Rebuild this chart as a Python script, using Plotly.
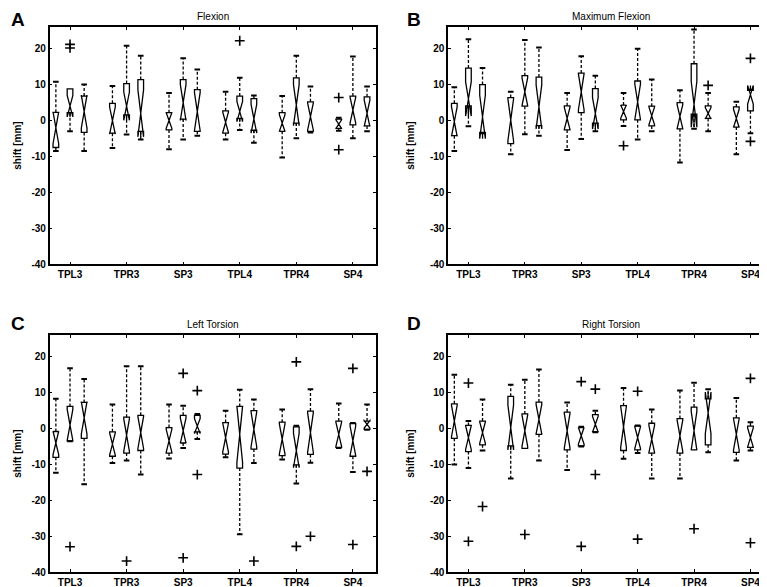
import plotly.graph_objects as go
import math

groups = ["TPL3", "TPR3", "SP3", "TPL4", "TPR4", "SP4"]
panel_titles = ["Flexion", "Maximum Flexion", "Left Torsion", "Right Torsion"]
panel_letters = ["A", "B", "C", "D"]
y_ticks = [-40, -30, -20, -10, 0, 10, 20]
y_ticktext = ["-40", "-30", "-20", "-10", "0", "10", "20"]
offsets = [-0.25, 0.0, 0.25]
n_samples = 12

# ---- Panel A: Flexion (18 boxes: 6 groups x 3) ----
flex_lo  = [-8.5, -3.0, -8.5,  -7.6, -3.9, -5.3,  -8.0, -5.3, -4.2,  -5.3, -2.6, -6.2,  -10.3, -4.9, -3.3,  -2.8, -4.9, -3.0]
flex_q1  = [-7.5,  2.2, -3.3,  -3.5,  1.6, -3.0,  -2.6,  0.4, -3.0,  -3.5,  0.6, -2.7,  -3.0, -0.7, -3.0,  -2.2, -1.2, -1.5]
flex_med = [-2.0,  4.0,  2.5,   0.0,  4.0,  2.0,   0.0,  5.0,  2.5,  -0.5,  2.5,  0.5,  -0.7,  4.3,  1.1,  -1.0,  2.9,  2.0]
flex_q3  = [ 2.3,  8.8,  6.8,   4.8, 10.3, 11.4,   2.2, 11.4,  8.6,   2.7,  6.8,  6.1,   2.2, 11.9,  5.2,   0.4,  6.8,  6.6]
flex_hi  = [10.8,  8.8, 10.0,   9.6, 20.8, 18.0,   7.7, 17.3, 14.2,   8.0, 11.9,  7.0,   6.8, 18.0,  9.5,   0.8, 17.8,  9.5]
flex_out = [[], [20.2, 21.2], [], [], [], [], [], [], [], [], [22.2], [], [], [], [], [6.4, -8.1], [], []]

# ---- Panel B: Maximum Flexion ----
mflex_lo  = [-8.5, -1.6, -3.5,  -9.4, -3.8, -4.2,  -8.2, -5.1, -3.0,  -1.5, -5.3, -3.0,  -11.7, -2.3, -3.0,  -9.4, -3.5, -2.5]
mflex_q1  = [-4.2,  4.1, -3.3,  -6.4,  4.0, -1.4,  -2.6,  2.2, -0.7,   0.2,  0.2, -1.5,  -2.3,  1.8,  0.6,  -1.8,  2.7, -2.4]
mflex_med = [-0.3,  6.0,  1.0,   0.2,  8.0,  3.8,   0.6,  8.0,  2.0,   2.5,  5.2,  1.3,   1.1,  4.5,  2.0,   0.6,  7.2, -1.2]
mflex_q3  = [ 4.8, 14.6, 10.0,   6.4, 12.5, 12.1,   4.1, 13.2,  8.9,   4.3, 11.0,  4.0,   5.0, 15.8,  4.1,   3.8,  8.4,  6.1]
mflex_hi  = [ 9.3, 22.6, 14.6,   8.0, 22.4, 20.3,   7.7, 17.9, 12.5,   7.7, 20.0, 11.4,   8.4, 25.3,  7.7,   5.2,  8.6, 10.0]
mflex_out = [[], [], [], [], [], [], [], [], [], [-7.0], [], [], [], [], [9.8], [], [17.3, -5.8], []]

# ---- Panel C: Left Torsion ----
ltor_lo  = [-12.3, -3.5, -15.5,  -9.6, -8.9, -12.8,  -8.3, -5.4, -2.9,  -8.0, -29.4, -9.6,  -8.6, -15.3, -9.5,  -5.4, -12.1, -0.3]
ltor_q1  = [ -8.0, -3.4,  -2.7,  -7.7, -6.8,  -6.1,  -6.8, -4.0, -0.9,  -7.1, -11.0, -5.7,  -7.5, -10.1, -7.2,  -5.2,  -7.7, -0.2]
ltor_med = [ -4.0,  1.0,   3.0,  -4.3, -1.8,  -1.1,  -3.4, -0.6,  0.7,  -2.5,  -1.6, -0.2,  -2.9,  -6.1, -1.1,  -1.6,  -3.4,  1.2]
ltor_q3  = [ -0.8,  6.2,   7.3,  -0.9,  3.2,   3.7,   0.3,  3.7,  3.7,   1.7,   6.2,  5.0,   1.8,   0.5,  4.9,   2.1,   1.4,  2.1]
ltor_hi  = [  8.3, 16.8,  13.8,   6.7, 17.4,  17.4,   6.7,  6.4,  4.1,   5.0,  10.8,  8.1,   5.3,   0.8, 11.0,   7.0,   1.6,  6.7]
ltor_out = [[], [-32.9], [], [], [-36.9], [], [], [15.4, -36.0], [10.6, -12.8], [], [], [-36.9], [], [18.6, -32.8], [-30.0], [], [16.8, -32.3], [-11.9]]

# ---- Panel D: Right Torsion ----
rtor_lo  = [-10.0, -11.0, -6.1,  -13.9, -5.5, -8.9,  -11.5, -5.0, -1.0,  -8.4, -6.8, -13.9,  -13.9, -5.9, -6.6,  -8.9, -6.1, -11.4]
rtor_q1  = [ -2.7,  -6.4, -4.5,   -4.8, -5.5, -1.6,   -5.9, -4.8, -0.9,  -6.1, -5.9,  -6.8,   -6.8, -5.9, -4.5,  -6.6, -5.2,  -3.4]
rtor_med = [  2.1,  -2.5, -1.1,    0.3, -0.6,  2.6,   -0.6, -2.0,  1.2,   0.5, -2.5,  -2.9,   -2.0, -0.6,  4.4,  -1.6, -2.5,  -0.2]
rtor_q3  = [  6.9,   0.9,  2.1,    9.0,  4.1,  7.4,    4.6,  0.3,  3.9,   6.4,  0.7,   1.5,    2.8,  6.0,  8.3,   3.0,  0.7,   3.3]
rtor_hi  = [ 15.0,   2.1,  8.1,   12.2, 13.6, 16.5,    7.3,  0.5,  5.0,  11.3,  0.9,   5.3,   10.6, 12.8, 11.0,   8.5,  1.8,   6.9]
rtor_out = [[], [12.7, -31.4], [-21.7], [], [-29.5], [], [], [13.1, -32.8], [11.0, -12.8], [], [10.4, -30.8], [], [], [-27.9], [], [], [14.0, -31.8], []]

panels = [
    (flex_lo, flex_q1, flex_med, flex_q3, flex_hi, flex_out),
    (mflex_lo, mflex_q1, mflex_med, mflex_q3, mflex_hi, mflex_out),
    (ltor_lo, ltor_q1, ltor_med, ltor_q3, ltor_hi, ltor_out),
    (rtor_lo, rtor_q1, rtor_med, rtor_q3, rtor_hi, rtor_out),
]

W, H = 767, 587
# pixel frames of each panel: (left, right, top, bottom)
frames = [(41.7, 368.0, 19.3, 259.0), (440.7, 766.0, 19.3, 259.0),
          (41.7, 368.0, 330.7, 570.0), (440.7, 766.0, 330.7, 570.0)]
# pixel centres of letters and y-titles
letter_xy = [(10, 12), (406.5, 12), (10, 318.5), (406.5, 319)]
ytitle_x = [10, 403.5, 10, 403.5]

positions = [g + 1 + o for g in range(len(groups)) for o in offsets]

fig = go.Figure()
for i, (lo, q1, med, q3, hi, out) in enumerate(panels):
    xa = "x" if i == 0 else f"x{i+1}"
    ya = "y" if i == 0 else f"y{i+1}"
    notch = [1.57 * (b - a) / math.sqrt(n_samples) for a, b in zip(q1, q3)]
    fig.add_trace(go.Box(
        x=positions, q1=q1, median=med, q3=q3, lowerfence=q1, upperfence=q3,
        notchspan=notch, notched=True, notchwidth=0.5, width=0.1,
        whiskerwidth=0, boxpoints=False,
        line=dict(color="black", width=1.3), fillcolor="rgba(255,255,255,0)",
        xaxis=xa, yaxis=ya, showlegend=False, hoverinfo="skip"))
    # dashed whiskers
    wx, wy, cx, cy = [], [], [], []
    for p, a, b, c, d in zip(positions, lo, q1, q3, hi):
        if d > c:
            wx += [p, p, None]; wy += [c, d, None]
            cx.append(p); cy.append(d)
        if a < b:
            wx += [p, p, None]; wy += [b, a, None]
            cx.append(p); cy.append(a)
    fig.add_trace(go.Scatter(x=wx, y=wy, mode="lines",
                             line=dict(color="black", width=1.3, dash="3px,2px"),
                             xaxis=xa, yaxis=ya, showlegend=False, hoverinfo="skip"))
    fig.add_trace(go.Scatter(x=cx, y=cy, mode="markers",
                             marker=dict(symbol="line-ew", size=4, line=dict(color="black", width=2)),
                             xaxis=xa, yaxis=ya, showlegend=False, hoverinfo="skip"))
    ox, oy = [], []
    for p, vals in zip(positions, out):
        for v in vals:
            ox.append(p); oy.append(v)
    fig.add_trace(go.Scatter(x=ox, y=oy, mode="markers",
                             marker=dict(symbol="cross-thin", size=7, line=dict(color="black", width=1.6)),
                             xaxis=xa, yaxis=ya, showlegend=False, hoverinfo="skip"))

layout = dict(width=W, height=H, margin=dict(l=0, r=0, t=0, b=0),
              paper_bgcolor="white", plot_bgcolor="white", showlegend=False)
tickfont = dict(family="Liberation Sans, Arial", size=10, color="black", weight="bold")
annotations = []
for i, (l, r, t, b) in enumerate(frames):
    xk = "xaxis" if i == 0 else f"xaxis{i+1}"
    yk = "yaxis" if i == 0 else f"yaxis{i+1}"
    ya = "y" if i == 0 else f"y{i+1}"
    xa = "x" if i == 0 else f"x{i+1}"
    layout[xk] = dict(domain=[l / W, r / W], range=[0.64, 6.4], anchor=ya,
                      tickvals=list(range(1, 7)), ticktext=groups, ticks="inside", ticklen=3,
                      tickcolor="black", mirror="ticks", showline=True, linecolor="black",
                      linewidth=1.5, showgrid=False, zeroline=False, tickfont=tickfont)
    layout[yk] = dict(domain=[1 - b / H, 1 - t / H], range=[-40, 26], anchor=xa,
                      tickvals=y_ticks, ticktext=y_ticktext, ticks="inside", ticklen=3,
                      tickcolor="black", mirror="ticks", showline=True, linecolor="black",
                      linewidth=1.5, showgrid=False, zeroline=False, tickfont=tickfont)
    annotations.append(dict(text=panel_titles[i], x=(l + r) / 2 / W, y=1 - (t - 11) / H,
                            xref="paper", yref="paper", showarrow=False, xanchor="center", yanchor="middle",
                            font=dict(family="Liberation Sans, Arial", size=10, color="black")))
    lx, ly = letter_xy[i]
    annotations.append(dict(text=panel_letters[i], x=lx / W, y=1 - ly / H,
                            xref="paper", yref="paper", showarrow=False, xanchor="center", yanchor="middle",
                            font=dict(family="Liberation Sans, Arial", size=19, color="black", weight="bold")))
    annotations.append(dict(text="shift [mm]", x=ytitle_x[i] / W, y=1 - (t + b) / 2 / H, textangle=-90,
                            xref="paper", yref="paper", showarrow=False, xanchor="center", yanchor="middle",
                            font=dict(family="Liberation Sans, Arial", size=10, color="black", weight="bold")))
layout["annotations"] = annotations
fig.update_layout(**layout)
fig.write_html("out.html")
